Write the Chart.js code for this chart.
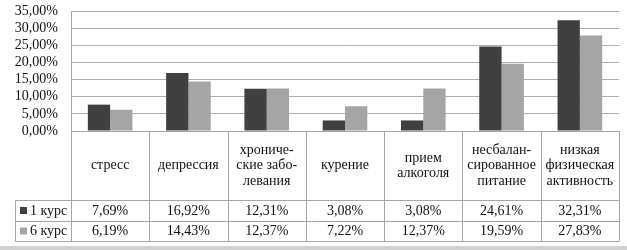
<!DOCTYPE html>
<html>
<head>
<meta charset="utf-8">
<script src="https://cdn.jsdelivr.net/npm/chart.js@4"></script>
<style>
  body { margin: 0; background: #fff; }
</style>
</head>
<body>
<canvas id="riskChart" width="627" height="250"></canvas>
<script>
const categories = [
  ['стресс'],
  ['депрессия'],
  ['хрониче-', 'ские забо-', 'левания'],
  ['курение'],
  ['прием', 'алкоголя'],
  ['несбалан-', 'сированное', 'питание'],
  ['низкая', 'физическая', 'активность']
];
const seriesLabels = ['1 курс', '6 курс'];
const course1 = [7.69, 16.92, 12.31, 3.08, 3.08, 24.61, 32.31];
const course6 = [6.19, 14.43, 12.37, 7.22, 12.37, 19.59, 27.83];
const colors = ['#404040', '#a5a5a5'];

const FONT = '"Liberation Serif", "Times New Roman", serif';
const pct = v => v.toFixed(2).replace('.', ',') + '%';

// data table drawn under the plot, columns follow the x scale
const dataTable = {
  id: 'dataTable',
  afterDraw(chart) {
    const ctx = chart.ctx;
    const area = chart.chartArea;
    const x = chart.scales.x;
    const colW = area.width / categories.length;
    const top = area.bottom;
    const headBottom = 200.5;
    const rowBottoms = [221.5, 241.5];
    const tableLeft = 15.5;

    ctx.save();
    ctx.strokeStyle = '#a6a6a6';
    ctx.lineWidth = 1;
    ctx.beginPath();
    // horizontal lines
    ctx.moveTo(area.left, top + 0.5); ctx.lineTo(area.right, top + 0.5);
    [headBottom, ...rowBottoms].forEach(y => {
      ctx.moveTo(tableLeft, y); ctx.lineTo(area.right, y);
    });
    // vertical lines
    for (let i = 0; i <= categories.length; i++) {
      const xx = Math.round(area.left + i * colW) + 0.5;
      ctx.moveTo(xx, top); ctx.lineTo(xx, rowBottoms[1]);
    }
    ctx.moveTo(tableLeft, headBottom); ctx.lineTo(tableLeft, rowBottoms[1]);
    ctx.stroke();

    ctx.fillStyle = '#111';
    ctx.font = '14px ' + FONT;
    ctx.textAlign = 'center';
    ctx.textBaseline = 'middle';
    const lineH = 15.5;
    categories.forEach((lines, i) => {
      const cx = x.getPixelForValue(i);
      const cy = (top + headBottom) / 2;
      lines.forEach((t, j) => {
        ctx.fillText(t, cx, cy + (j - (lines.length - 1) / 2) * lineH);
      });
    });

    const rowsData = [course1, course6];
    const rowCenters = [(headBottom + rowBottoms[0]) / 2, (rowBottoms[0] + rowBottoms[1]) / 2];
    rowsData.forEach((vals, r) => {
      vals.forEach((v, i) => {
        ctx.fillText(pct(v), x.getPixelForValue(i), rowCenters[r]);
      });
      ctx.fillStyle = colors[r];
      ctx.fillRect(20, rowCenters[r] - 4, 7, 7);
      ctx.fillStyle = '#111';
      ctx.textAlign = 'left';
      ctx.fillText(seriesLabels[r], 30, rowCenters[r]);
      ctx.textAlign = 'center';
    });

    // frame shadow at the bottom
    ctx.fillStyle = '#d0d0d0';
    ctx.fillRect(0, 246, chart.width, 4);
    ctx.restore();
  }
};

new Chart(document.getElementById('riskChart'), {
  type: 'bar',
  data: {
    labels: categories.map(c => c.join(' ')),
    datasets: [
      { label: seriesLabels[0], data: course1, backgroundColor: colors[0] },
      { label: seriesLabels[1], data: course6, backgroundColor: colors[1] }
    ]
  },
  options: {
    responsive: false,
    animation: false,
    layout: { padding: { left: 0, right: 8, top: 11, bottom: 119 } },
    datasets: { bar: { categoryPercentage: 0.57, barPercentage: 1 } },
    plugins: {
      legend: { display: false },
      tooltip: { enabled: false }
    },
    scales: {
      x: { display: false },
      y: {
        min: 0,
        max: 35,
        afterFit: s => {
          s.width = 71;
          s.paddingTop = 0;
          s.paddingBottom = 0;
        },
        border: { color: '#a6a6a6' },
        grid: { color: '#b0b0b0', drawTicks: false },
        ticks: {
          stepSize: 5,
          autoSkip: false,
          padding: 13,
          color: '#111',
          font: { family: FONT, size: 14 },
          callback: v => pct(v)
        }
      }
    }
  },
  plugins: [dataTable]
});
</script>
</body>
</html>
